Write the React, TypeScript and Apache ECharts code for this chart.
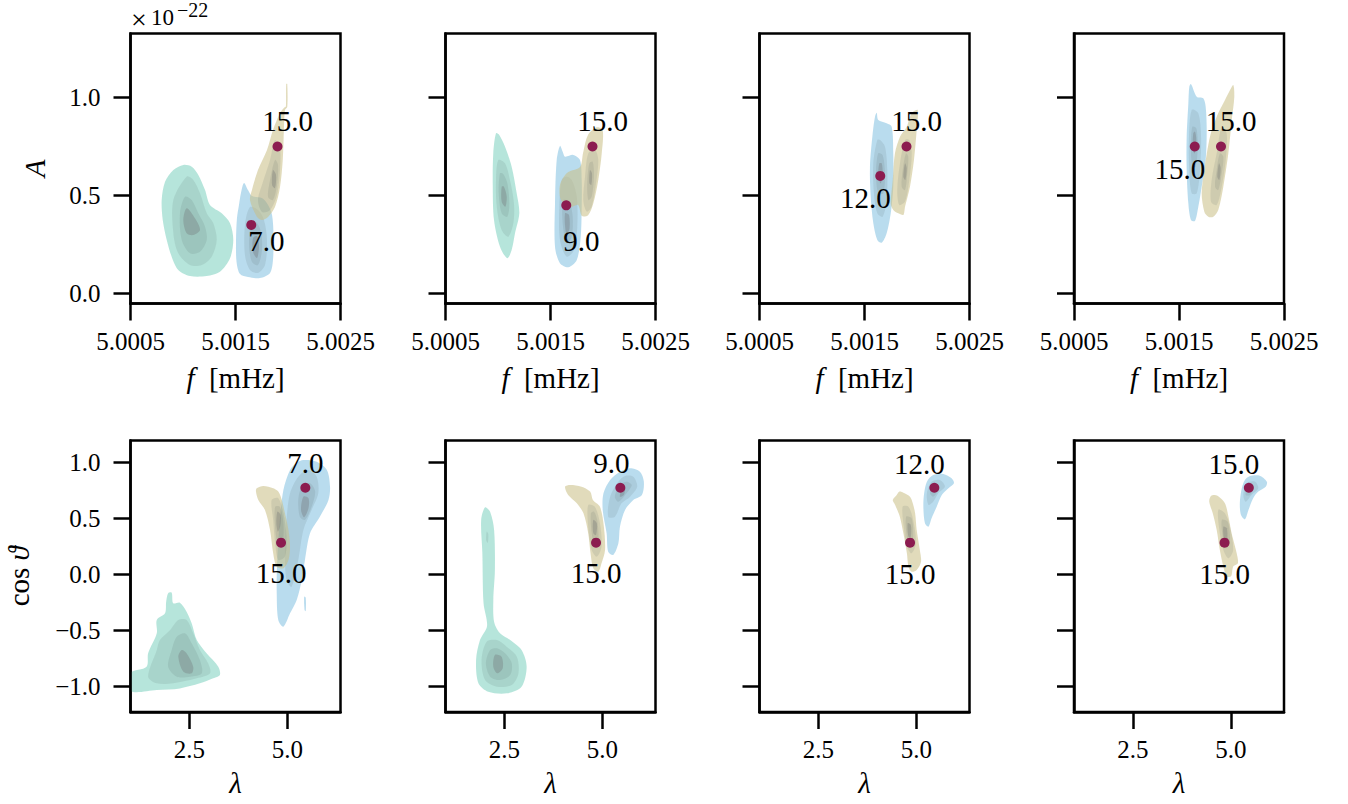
import React, { useEffect, useRef } from "react";
import * as echarts from "echarts";

const FONT = "'Liberation Serif', 'DejaVu Serif', serif";

// ---------- axis ticks ----------
const fTicks = [5.0005, 5.0015, 5.0025];
const ampTicks = [0, 0.5, 1.0];
const lamTicks = [2.5, 5.0];
const cosTicks = [-1.0, -0.5, 0.0, 0.5, 1.0];

// ---------- injected / recovered points ----------
const snrLabels = ["7.0", "9.0", "12.0", "15.0"];
const refLabels = ["15.0", "15.0", "15.0", "15.0"];
const blueF = [5.00165, 5.00165, 5.00165, 5.00165];
const blueAmp = [0.35, 0.45, 0.6, 0.75]; // x 1e-22
const tanF = [5.0019, 5.0019, 5.0019, 5.0019];
const tanAmp = [0.75, 0.75, 0.75, 0.75];
const blueLam = [5.46, 5.46, 5.46, 5.46];
const blueCos = [0.773, 0.773, 0.773, 0.773];
const tanLam = [4.84, 4.84, 4.84, 4.84];
const tanCos = [0.282, 0.282, 0.282, 0.282];

// ---------- KDE contour levels (outer -> core), top row: [f (mHz), A (1e-22)] ----------
const topTeal1 = [
  [[5.001003,0.656],[5.000908,0.630],[5.000829,0.570],[5.000797,0.477],[5.000807,0.375],[5.000845,0.273],[5.000892,0.188],[5.000955,0.120],[5.001067,0.089],[5.001226,0.089],[5.001352,0.111],[5.001448,0.180],[5.001479,0.273],[5.001448,0.358],[5.001369,0.409],[5.001257,0.452],[5.001210,0.528],[5.001146,0.605],[5.001083,0.647]],
  [[5.001035,0.596],[5.000908,0.477],[5.000908,0.307],[5.000955,0.205],[5.001067,0.145],[5.001178,0.145],[5.001273,0.188],[5.001321,0.273],[5.001289,0.358],[5.001226,0.409],[5.001162,0.511],[5.001098,0.579]],
  [[5.001019,0.494],[5.000971,0.409],[5.000988,0.273],[5.001067,0.205],[5.001162,0.213],[5.001226,0.273],[5.001210,0.341],[5.001146,0.409],[5.001083,0.477]],
  [[5.001035,0.435],[5.001003,0.375],[5.001035,0.307],[5.001098,0.298],[5.001162,0.324],[5.001114,0.384]],
];
const topBlue1 = [
  [[5.001581,0.564],[5.001619,0.528],[5.001657,0.497],[5.001752,0.487],[5.001810,0.452],[5.001848,0.401],[5.001862,0.298],[5.001857,0.171],[5.001829,0.105],[5.001733,0.079],[5.001619,0.084],[5.001543,0.099],[5.001510,0.161],[5.001505,0.273],[5.001514,0.385],[5.001533,0.452],[5.001552,0.513]],
  [[5.001638,0.441],[5.001590,0.349],[5.001590,0.196],[5.001638,0.120],[5.001714,0.105],[5.001781,0.145],[5.001800,0.273],[5.001771,0.375],[5.001714,0.426]],
  [[5.001648,0.349],[5.001629,0.247],[5.001657,0.161],[5.001714,0.145],[5.001752,0.222],[5.001743,0.314],[5.001695,0.365]],
  [[5.001667,0.283],[5.001667,0.212],[5.001705,0.181],[5.001724,0.242],[5.001705,0.293]],
];
const topTan1 = [
  [[5.001983,1.069],[5.001993,1.069],[5.001993,0.952],[5.001971,0.936],[5.001962,0.849],[5.001950,0.681],[5.001924,0.543],[5.001876,0.441],[5.001810,0.390],[5.001752,0.375],[5.001705,0.390],[5.001638,0.477],[5.001657,0.528],[5.001714,0.630],[5.001800,0.732],[5.001857,0.834],[5.001924,0.921],[5.001971,0.952],[5.001980,0.952]],
  [[5.001876,0.783],[5.001829,0.681],[5.001752,0.554],[5.001714,0.477],[5.001752,0.416],[5.001829,0.426],[5.001895,0.503],[5.001924,0.630],[5.001924,0.742]],
  [[5.001876,0.681],[5.001829,0.579],[5.001810,0.492],[5.001857,0.477],[5.001895,0.554],[5.001905,0.656]],
  [[5.001857,0.630],[5.001848,0.554],[5.001876,0.538],[5.001886,0.605]],
];
const topTeal2 = [
  [[5.000981,0.817],[5.000955,0.715],[5.000950,0.545],[5.000962,0.375],[5.001019,0.239],[5.001089,0.180],[5.001130,0.222],[5.001162,0.307],[5.001203,0.409],[5.001178,0.511],[5.001130,0.647],[5.001067,0.749],[5.001012,0.809]],
  [[5.001003,0.681],[5.000981,0.579],[5.000988,0.443],[5.001035,0.324],[5.001098,0.290],[5.001146,0.358],[5.001152,0.460],[5.001114,0.579],[5.001067,0.664]],
  [[5.001019,0.613],[5.001007,0.511],[5.001035,0.409],[5.001089,0.392],[5.001108,0.460],[5.001089,0.562],[5.001050,0.610]],
  [[5.001035,0.545],[5.001035,0.468],[5.001070,0.443],[5.001083,0.494],[5.001057,0.545]],
];
const topBlue2 = [
  [[5.001590,0.753],[5.001559,0.681],[5.001543,0.460],[5.001543,0.239],[5.001590,0.154],[5.001670,0.134],[5.001750,0.171],[5.001788,0.290],[5.001797,0.443],[5.001797,0.579],[5.001781,0.681],[5.001717,0.707],[5.001638,0.698],[5.001616,0.723]],
  [[5.001607,0.579],[5.001584,0.443],[5.001590,0.273],[5.001654,0.188],[5.001724,0.222],[5.001755,0.341],[5.001750,0.494],[5.001702,0.579],[5.001654,0.596]],
  [[5.001622,0.477],[5.001616,0.358],[5.001654,0.256],[5.001702,0.290],[5.001711,0.392],[5.001679,0.468]],
  [[5.001638,0.409],[5.001648,0.307],[5.001679,0.324],[5.001676,0.401]],
];
const topTan2 = [
  [[5.001940,0.848],[5.001997,0.834],[5.001988,0.715],[5.001955,0.579],[5.001908,0.460],[5.001860,0.401],[5.001800,0.395],[5.001762,0.452],[5.001686,0.441],[5.001600,0.477],[5.001590,0.554],[5.001657,0.615],[5.001781,0.645],[5.001810,0.717],[5.001857,0.809]],
  [[5.001860,0.715],[5.001829,0.596],[5.001812,0.477],[5.001845,0.418],[5.001892,0.443],[5.001933,0.562],[5.001955,0.681],[5.001924,0.732]],
  [[5.001870,0.664],[5.001850,0.562],[5.001860,0.477],[5.001892,0.494],[5.001914,0.596],[5.001902,0.672]],
  [[5.001876,0.630],[5.001870,0.562],[5.001889,0.554],[5.001895,0.613]],
];
const topBlue3 = [
  [[5.001616,0.922],[5.001631,0.885],[5.001711,0.868],[5.001759,0.851],[5.001774,0.715],[5.001774,0.545],[5.001750,0.409],[5.001711,0.307],[5.001664,0.259],[5.001622,0.273],[5.001584,0.358],[5.001559,0.494],[5.001552,0.647],[5.001578,0.817],[5.001600,0.902]],
  [[5.001622,0.783],[5.001584,0.664],[5.001590,0.511],[5.001622,0.409],[5.001673,0.392],[5.001711,0.477],[5.001717,0.630],[5.001695,0.749],[5.001648,0.783]],
  [[5.001631,0.715],[5.001610,0.613],[5.001631,0.511],[5.001679,0.511],[5.001695,0.613],[5.001673,0.705]],
  [[5.001641,0.664],[5.001631,0.596],[5.001654,0.562],[5.001673,0.605],[5.001664,0.664]],
];
const topTan3 = [
  [[5.001965,0.928],[5.002007,0.936],[5.001997,0.834],[5.001971,0.681],[5.001933,0.545],[5.001886,0.443],[5.001870,0.401],[5.001822,0.409],[5.001774,0.426],[5.001750,0.460],[5.001769,0.579],[5.001790,0.715],[5.001838,0.800],[5.001902,0.851],[5.001933,0.902]],
  [[5.001886,0.783],[5.001838,0.664],[5.001812,0.528],[5.001831,0.452],[5.001886,0.469],[5.001927,0.579],[5.001950,0.715],[5.001927,0.783]],
  [[5.001895,0.715],[5.001864,0.630],[5.001854,0.545],[5.001886,0.528],[5.001908,0.613],[5.001917,0.698]],
  [[5.001886,0.664],[5.001870,0.596],[5.001889,0.579],[5.001902,0.639]],
];
const topBlue4 = [
  [[5.001614,1.069],[5.001669,1.004],[5.001731,0.996],[5.001754,0.953],[5.001764,0.834],[5.001754,0.681],[5.001716,0.545],[5.001684,0.443],[5.001652,0.370],[5.001614,0.375],[5.001589,0.460],[5.001573,0.630],[5.001573,0.800],[5.001589,0.970],[5.001598,1.055]],
  [[5.001621,0.936],[5.001595,0.800],[5.001598,0.630],[5.001621,0.511],[5.001669,0.511],[5.001700,0.630],[5.001710,0.800],[5.001684,0.919]],
  [[5.001627,0.851],[5.001614,0.749],[5.001627,0.647],[5.001659,0.647],[5.001678,0.749],[5.001665,0.843]],
  [[5.001636,0.817],[5.001630,0.732],[5.001650,0.715],[5.001665,0.783],[5.001652,0.826]],
];
const topTan4 = [
  [[5.002017,1.064],[5.002027,1.004],[5.002002,0.885],[5.001970,0.715],[5.001922,0.545],[5.001874,0.426],[5.001827,0.392],[5.001779,0.392],[5.001741,0.417],[5.001716,0.511],[5.001741,0.630],[5.001795,0.800],[5.001859,0.902],[5.001938,0.987],[5.001986,1.038]],
  [[5.001907,0.851],[5.001859,0.715],[5.001811,0.579],[5.001805,0.468],[5.001859,0.452],[5.001907,0.545],[5.001945,0.681],[5.001954,0.817]],
  [[5.001890,0.715],[5.001859,0.630],[5.001843,0.545],[5.001874,0.528],[5.001907,0.613],[5.001922,0.698]],
  [[5.001881,0.664],[5.001865,0.596],[5.001884,0.579],[5.001897,0.639]],
];

// ---------- bottom row: [lambda, cos theta] ----------
const botTeal1 = [
  [[1.00,-0.883],[1.41,-0.827],[1.45,-0.707],[1.67,-0.528],[1.67,-0.409],[1.88,-0.350],[1.91,-0.246],[1.96,-0.171],[2.05,-0.165],[2.09,-0.260],[2.26,-0.255],[2.43,-0.335],[2.56,-0.439],[2.69,-0.589],[2.94,-0.707],[3.24,-0.827],[3.28,-0.901],[3.11,-0.931],[2.77,-0.976],[2.26,-1.021],[1.67,-1.035],[1.00,-1.044]],
  [[1.67,-0.678],[1.75,-0.589],[2.01,-0.499],[2.22,-0.409],[2.43,-0.409],[2.60,-0.528],[2.77,-0.678],[2.98,-0.797],[3.03,-0.886],[2.69,-0.931],[2.09,-0.975],[1.67,-0.975],[1.45,-0.916]],
  [[2.05,-0.678],[2.18,-0.559],[2.39,-0.529],[2.56,-0.618],[2.77,-0.768],[2.82,-0.886],[2.52,-0.916],[2.18,-0.916],[1.96,-0.827]],
  [[2.22,-0.738],[2.31,-0.678],[2.43,-0.707],[2.60,-0.827],[2.56,-0.886],[2.35,-0.872]],
];
const botBlue1 = [
  [[5.41,1.021],[5.75,1.006],[6.01,0.932],[6.09,0.782],[6.05,0.663],[5.83,0.514],[5.58,0.366],[5.45,0.127],[5.37,-0.052],[5.24,-0.231],[5.07,-0.350],[4.90,-0.469],[4.77,-0.409],[4.73,-0.171],[4.74,0.097],[4.81,0.485],[4.90,0.753],[5.07,0.932],[5.24,0.997]],
  [[5.28,0.872],[5.07,0.723],[4.98,0.485],[4.94,0.187],[4.98,-0.052],[5.11,-0.112],[5.28,0.127],[5.41,0.395],[5.62,0.574],[5.79,0.723],[5.75,0.872],[5.54,0.932]],
  [[5.37,0.782],[5.28,0.663],[5.32,0.514],[5.45,0.485],[5.62,0.603],[5.71,0.738],[5.58,0.813]],
  [[5.41,0.693],[5.35,0.574],[5.43,0.509],[5.54,0.589],[5.54,0.679]],
];
const botBlue1Islet = [
  [[5.43,-0.20],[5.47,-0.21],[5.47,-0.33],[5.44,-0.32]],
];
const botTan1 = [
  [[4.22,0.768],[4.39,0.789],[4.64,0.768],[4.77,0.738],[4.86,0.663],[4.94,0.544],[5.03,0.395],[5.07,0.246],[5.03,0.127],[4.90,0.053],[4.73,0.067],[4.64,0.187],[4.56,0.395],[4.43,0.574],[4.26,0.663],[4.20,0.738]],
  [[4.60,0.663],[4.64,0.485],[4.69,0.276],[4.77,0.127],[4.94,0.157],[4.98,0.335],[4.90,0.544],[4.77,0.679]],
  [[4.69,0.603],[4.69,0.425],[4.77,0.246],[4.88,0.276],[4.90,0.455],[4.81,0.603]],
  [[4.75,0.56],[4.72,0.46],[4.76,0.38],[4.82,0.43],[4.83,0.53]],
];
const botTeal2 = [
  [[2.01,0.598],[2.14,0.556],[2.24,0.395],[2.26,0.038],[2.22,-0.230],[2.24,-0.427],[2.39,-0.528],[2.65,-0.589],[2.94,-0.678],[3.07,-0.827],[2.94,-1.006],[2.56,-1.065],[2.09,-1.051],[1.84,-0.975],[1.78,-0.767],[1.88,-0.589],[2.06,-0.463],[1.97,-0.257],[1.94,0.190],[1.91,0.485]],
  [[2.05,-0.603],[1.92,-0.767],[2.01,-0.946],[2.31,-1.006],[2.69,-0.991],[2.86,-0.887],[2.82,-0.738],[2.56,-0.649],[2.31,-0.589]],
  [[2.14,-0.678],[2.03,-0.797],[2.14,-0.916],[2.39,-0.946],[2.65,-0.901],[2.69,-0.797],[2.52,-0.707],[2.31,-0.663]],
  [[2.26,-0.722],[2.22,-0.827],[2.32,-0.886],[2.46,-0.841],[2.43,-0.738]],
];
const botTeal2Stalk = [
  [],
  [[2.05,0.38],[2.04,0.30],[2.08,0.28],[2.09,0.36]],
];
const botBlue2 = [
  [[5.71,0.947],[5.96,0.916],[6.06,0.827],[6.01,0.708],[5.79,0.663],[5.58,0.574],[5.45,0.425],[5.41,0.276],[5.28,0.172],[5.15,0.201],[5.11,0.366],[5.01,0.574],[5.03,0.723],[5.20,0.842],[5.45,0.916]],
  [[5.41,0.827],[5.20,0.693],[5.15,0.514],[5.32,0.514],[5.49,0.633],[5.71,0.693],[5.89,0.783],[5.79,0.872],[5.58,0.878]],
  [[5.45,0.797],[5.32,0.693],[5.41,0.648],[5.62,0.723],[5.75,0.797],[5.62,0.827]],
  [[5.49,0.753],[5.45,0.693],[5.55,0.708],[5.58,0.768]],
];
const botTan2 = [
  [[4.05,0.782],[4.18,0.797],[4.47,0.782],[4.69,0.738],[4.76,0.663],[4.94,0.603],[5.04,0.425],[5.07,0.216],[4.98,0.097],[4.90,0.022],[4.77,0.053],[4.70,0.187],[4.64,0.366],[4.52,0.544],[4.35,0.634],[4.13,0.708]],
  [[4.64,0.619],[4.64,0.425],[4.73,0.216],[4.86,0.157],[4.98,0.246],[4.94,0.455],[4.81,0.603]],
  [[4.71,0.544],[4.73,0.366],[4.81,0.246],[4.90,0.306],[4.87,0.484],[4.79,0.559]],
  [[4.77,0.485],[4.77,0.366],[4.84,0.350],[4.86,0.455]],
];
const botBlue3 = [
  [[5.43,0.887],[5.69,0.896],[5.90,0.857],[5.96,0.813],[5.82,0.768],[5.65,0.708],[5.52,0.603],[5.39,0.500],[5.31,0.425],[5.22,0.455],[5.18,0.603],[5.20,0.723],[5.27,0.827]],
  [[5.39,0.827],[5.27,0.723],[5.31,0.619],[5.43,0.648],[5.56,0.723],[5.73,0.783],[5.60,0.842]],
  [[5.43,0.797],[5.35,0.723],[5.43,0.693],[5.56,0.753],[5.54,0.803]],
];
const botTan3 = [
  [[4.57,0.738],[4.67,0.729],[4.84,0.693],[4.91,0.634],[4.97,0.544],[5.01,0.395],[5.09,0.216],[5.12,0.112],[5.01,0.038],[4.88,0.022],[4.80,0.067],[4.76,0.187],[4.67,0.366],[4.58,0.514],[4.46,0.619],[4.40,0.663],[4.50,0.708]],
  [[4.65,0.603],[4.69,0.395],[4.76,0.246],[4.88,0.187],[4.99,0.276],[4.92,0.485],[4.80,0.603]],
  [[4.74,0.514],[4.76,0.335],[4.84,0.261],[4.92,0.335],[4.88,0.500]],
  [[4.78,0.455],[4.80,0.335],[4.86,0.335],[4.86,0.440]],
];
const botBlue4 = [
  [[5.49,0.878],[5.74,0.881],[5.92,0.827],[5.89,0.782],[5.70,0.738],[5.57,0.679],[5.45,0.574],[5.36,0.491],[5.26,0.529],[5.23,0.634],[5.28,0.768],[5.36,0.842]],
  [[5.41,0.813],[5.32,0.708],[5.38,0.648],[5.53,0.708],[5.70,0.768],[5.62,0.827]],
  [[5.43,0.782],[5.38,0.708],[5.49,0.708],[5.57,0.768]],
];
const botTan4 = [
  [[4.55,0.708],[4.67,0.699],[4.85,0.634],[4.94,0.514],[5.02,0.366],[5.15,0.187],[5.18,0.097],[5.06,0.067],[5.01,-0.016],[4.90,-0.022],[4.81,0.067],[4.72,0.216],[4.64,0.395],[4.54,0.544],[4.45,0.648],[4.48,0.693]],
  [[4.68,0.574],[4.72,0.366],[4.81,0.216],[4.94,0.142],[5.06,0.216],[4.98,0.425],[4.85,0.544]],
  [[4.77,0.485],[4.81,0.306],[4.90,0.232],[4.98,0.306],[4.92,0.469]],
  [[4.81,0.425],[4.83,0.306],[4.90,0.291],[4.90,0.410]],
];

// ---------- styling ----------
const SPECIES_FILL: Record<string, string> = {
  teal: "rgba(124,208,190,0.56)",
  blue: "rgba(130,193,224,0.56)",
  tan: "rgba(202,191,133,0.56)",
};
const INNER_FILL = "rgba(70,90,90,0.12)";
const CORE_FILL = "rgba(105,105,110,0.30)";
const POINT_COLOR = "#8c1c50";

const colLefts = [130.5, 445.5, 759.5, 1074];
const PANEL_W = 210;
const rowTops = [33.5, 440.5];
const rowHeights = [270, 271.5];

const panelBlobs: [any[], string][][] = [
  [[topTeal1, "teal"], [topBlue1, "blue"], [topTan1, "tan"]],
  [[topTeal2, "teal"], [topBlue2, "blue"], [topTan2, "tan"]],
  [[topBlue3, "blue"], [topTan3, "tan"]],
  [[topBlue4, "blue"], [topTan4, "tan"]],
  [[botTeal1, "teal"], [botBlue1, "blue"], [botBlue1Islet, "blue"], [botTan1, "tan"]],
  [[botTeal2, "teal"], [botTeal2Stalk, "teal"], [botBlue2, "blue"], [botTan2, "tan"]],
  [[botBlue3, "blue"], [botTan3, "tan"]],
  [[botBlue4, "blue"], [botTan4, "tan"]],
];

// label offsets (px) relative to their points
const topBlueOffsets = [[15, 16], [15, 36], [-15, 22], [-15, 23]];
const topTanOffsets = [[10, -25], [10, -25], [10, -25], [10, -25]];
const botBlueOffsets = [[0, -25], [-9, -25], [-15, -24], [-15, -24]];
const botTanOffsets = [[0, 30], [0, 30], [0, 31], [0, 31]];

const minus = (s: string) => s.replace("-", "\u2212");

function buildOption() {
  const grids: any[] = [];
  const xAxes: any[] = [];
  const yAxes: any[] = [];
  const series: any[] = [];

  const tickStyle = { show: true, length: 17, inside: false, lineStyle: { color: "#000", width: 2.5 } };
  const lineStyle = { show: true, onZero: false, lineStyle: { color: "#000", width: 2.5 } };
  const labelBase = { fontFamily: FONT, fontSize: 25, color: "#000" };
  const nameStyle = {
    fontFamily: FONT,
    fontSize: 29,
    color: "#000",
    rich: { i: { fontFamily: FONT, fontSize: 29, fontStyle: "italic", color: "#000" } },
  };

  for (let r = 0; r < 2; r++) {
    for (let c = 0; c < 4; c++) {
      const idx = r * 4 + c;
      grids.push({
        left: colLefts[c],
        top: rowTops[r],
        width: PANEL_W,
        height: rowHeights[r],
        show: true,
        borderColor: "#000",
        borderWidth: 2.5,
        backgroundColor: "rgba(0,0,0,0)",
        containLabel: false,
        outerBoundsMode: "none",
      });
      const top = r === 0;
      xAxes.push({
        type: "value",
        gridIndex: idx,
        position: "bottom",
        min: top ? 5.0005 : 1.0,
        max: top ? 5.0025 : 6.357,
        z: 5,
        axisLine: lineStyle,
        axisTick: { ...tickStyle, customValues: top ? fTicks : lamTicks },
        axisLabel: {
          ...labelBase,
          margin: 25,
          customValues: top ? fTicks : lamTicks,
          formatter: (v: number) => (top ? v.toFixed(4) : v.toFixed(1)),
        },
        splitLine: { show: false },
        name: top ? "{i|f}  [mHz]" : "{i|\u03bb}",
        nameLocation: "middle",
        nameGap: top ? 60 : 56,
        nameTextStyle: nameStyle,
      });
      yAxes.push({
        type: "value",
        gridIndex: idx,
        position: "left",
        min: top ? -0.051 : -1.232,
        max: top ? 1.3265 : 1.195,
        z: 5,
        axisLine: lineStyle,
        axisTick: { ...tickStyle, customValues: top ? ampTicks : cosTicks },
        axisLabel: {
          ...labelBase,
          show: c === 0,
          margin: 30,
          customValues: top ? ampTicks : cosTicks,
          formatter: (v: number) => minus(v.toFixed(1)),
        },
        splitLine: { show: false },
        name: c === 0 ? (top ? "{i|A}" : "cos {i|\u03d1}") : "",
        nameLocation: "middle",
        nameGap: top ? 81 : 97,
        nameTextStyle: nameStyle,
      });

      // contour polygons
      const polys: { pts: number[][]; fill: string }[] = [];
      panelBlobs[idx].forEach(([levels, sp]) => {
        levels.forEach((pts: number[][], li: number) => {
          if (!pts || pts.length === 0) return;
          const fill = li === 0 ? SPECIES_FILL[sp] : li === 3 ? CORE_FILL : INNER_FILL;
          polys.push({ pts, fill });
        });
      });
      series.push({
        type: "custom",
        xAxisIndex: idx,
        yAxisIndex: idx,
        clip: true,
        silent: true,
        z: 2,
        encode: { x: 0, y: 1 },
        data: polys.map((p, i) => [p.pts[0][0], p.pts[0][1], i]),
        renderItem: (_params: any, api: any) => {
          const p = polys[api.value(2)];
          return {
            type: "polygon",
            shape: { points: p.pts.map((q) => api.coord(q)), smooth: 0.3 },
            style: { fill: p.fill, stroke: "none" },
          };
        },
      });

      // points with annotations
      const i4 = c;
      const pts = top
        ? [
            { value: [blueF[i4], blueAmp[i4]], name: snrLabels[i4], off: topBlueOffsets[i4] },
            { value: [tanF[i4], tanAmp[i4]], name: refLabels[i4], off: topTanOffsets[i4] },
          ]
        : [
            { value: [blueLam[i4], blueCos[i4]], name: snrLabels[i4], off: botBlueOffsets[i4] },
            { value: [tanLam[i4], tanCos[i4]], name: refLabels[i4], off: botTanOffsets[i4] },
          ];
      series.push({
        type: "scatter",
        xAxisIndex: idx,
        yAxisIndex: idx,
        z: 4,
        symbol: "circle",
        symbolSize: 10,
        itemStyle: { color: POINT_COLOR, opacity: 1 },
        silent: true,
        data: pts.map((p) => ({
          value: p.value,
          name: p.name,
          label: {
            show: true,
            position: "inside",
            offset: p.off,
            formatter: p.name,
            fontFamily: FONT,
            fontSize: 29,
            color: "#000",
            textBorderWidth: 0,
          },
        })),
      });
    }
  }

  const offsetText = (text: string, left: number, topPx: number, size: number) => ({
    text,
    left,
    top: topPx,
    padding: 0,
    itemGap: 0,
    textStyle: { fontFamily: FONT, fontSize: size, fontWeight: "normal", color: "#000" },
  });

  return {
    animation: false,
    backgroundColor: "#fff",
    title: [
      offsetText("\u00d7", 131, 5, 28),
      offsetText("10", 151, 6, 23),
      offsetText("\u221222", 177, 0, 20),
    ],
    grid: grids,
    xAxis: xAxes,
    yAxis: yAxes,
    series,
  };
}

export default function App() {
  const ref = useRef<HTMLDivElement>(null);
  useEffect(() => {
    if (!ref.current) return;
    const chart = echarts.init(ref.current, undefined, { renderer: "svg" });
    chart.setOption(buildOption() as any);
    return () => chart.dispose();
  }, []);
  return (
    <div
      ref={ref}
      style={{ position: "absolute", left: 0, top: 0, width: 1348, height: 804, background: "#fff" }}
    />
  );
}
